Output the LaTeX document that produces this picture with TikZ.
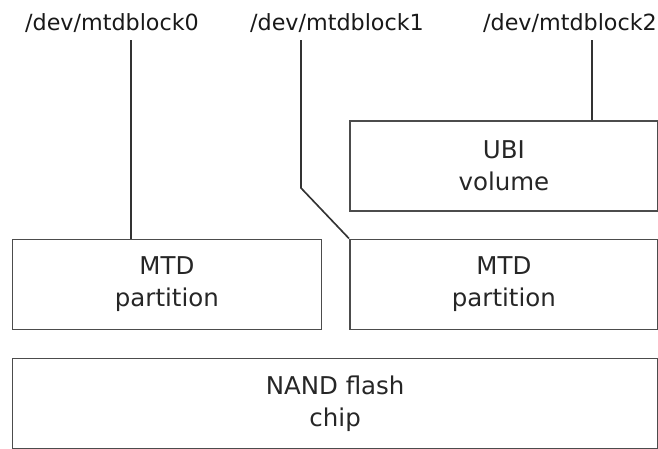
\documentclass[tikz,border=0pt]{standalone}
\usepackage{fontspec}
\setmainfont{DejaVu Sans}
\usetikzlibrary{calc,positioning}

\tikzset{
  layer/.style={draw=black!70,line width=1.5pt,inner sep=0pt,align=center,
    text=black!85,font=\fontsize{20.9}{27.3}\selectfont},
  devname/.style={anchor=base,inner sep=0pt,text=black!90,
    font=\fontsize{19}{27.3}\selectfont},
  link/.style={draw=black!80,line width=1.4pt}
}

\begin{document}
\begin{tikzpicture}[x=0.03cm,y=-0.03cm]
\useasboundingbox (0,0) rectangle (658,449);
% device names
\node[devname] (dev0) at (112,30) {/dev/mtdblock0};
\node[devname] (dev1) at (337,30) {/dev/mtdblock1};
\node[devname] (dev2) at (570,30) {/dev/mtdblock2};
% layers
\node[layer,anchor=north west,minimum width=9.27cm,minimum height=2.7cm] (part0) at (11.5,238.5) {MTD\\partition};
\node[layer,anchor=north west,minimum width=9.24cm,minimum height=2.7cm] (part1) at (349,238.5) {MTD\\partition};
\node[layer,anchor=north west,minimum width=9.24cm,minimum height=2.7cm] (ubi) at (349,120) {UBI\\volume};
\node[layer,anchor=north west,minimum width=19.365cm,minimum height=2.7cm] (nand) at (11.5,357.5) {NAND flash\\chip};
% links
\coordinate (c0) at (131,40);
\coordinate (c1) at (301,40);
\coordinate (b1) at (301,188);
\coordinate (c2) at (592,40);
\draw[link] (c0) -- (c0 |- part0.north);
\draw[link] (c1) -- (b1) -- (part1.north west);
\draw[link] (c2) -- (c2 |- ubi.north);
\end{tikzpicture}
\end{document}
